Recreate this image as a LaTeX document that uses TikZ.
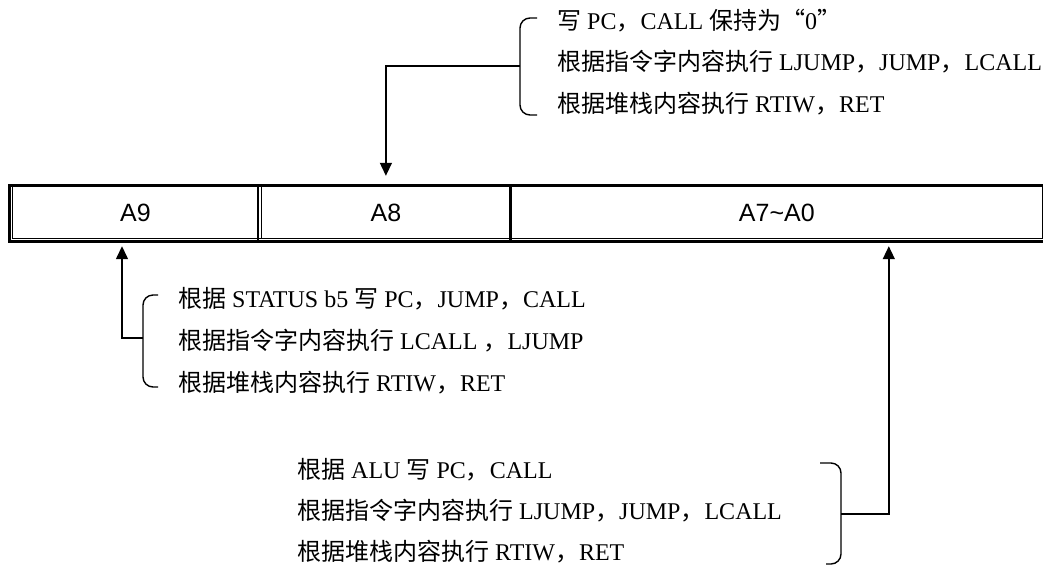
\documentclass[tikz,border=0pt]{standalone}
\usepackage{fontspec}
\setmainfont{Liberation Serif}
\newfontfamily\cjk{Noto Sans CJK SC}
\newfontfamily\regfont{Liberation Sans}
\newcommand{\zh}[1]{{\cjk #1}}
\usepackage{tikz}
\usetikzlibrary{positioning, arrows.meta}

\tikzset{
  cell/.style={minimum height=54pt, inner sep=0pt, font=\regfont\fontsize{25}{25}\selectfont},
  note/.style={anchor=west, inner sep=0pt, font=\fontsize{24}{24}\selectfont},
  brace/.style={line width=1.4pt, rounded corners=10pt},
  feed/.style={line width=1.4pt, -{Triangle[length=13pt,width=12pt]}},
}

\begin{document}
\begin{tikzpicture}[x=1pt,y=-1pt]
        \useasboundingbox (0,0) rectangle (1043,566);
        % register cells
        \node[cell, minimum width=247pt] (a9) at (135.5,213) {A9};
        \node[cell, minimum width=249pt, right=2pt of a9] (a8) {A8};
        \node[cell, minimum width=532pt, right=0pt of a8] (a7) {A7\char`~A0};
        \draw[line width=3pt] (9,185.5) rectangle (1046,241.5);
        \draw[line width=0.9pt] (12,187) |- (1042,238) -- (1042,187);
        \draw[line width=1.8pt] ([xshift=-1pt]a9.north east) -- ([xshift=-1pt]a9.south east);
        \draw[line width=0.9pt] (a8.north west) -- ([yshift=2pt]a8.south west);
        \draw[line width=3.5pt] (a8.north east) -- (a8.south east);
        % top group -> A8
        \node[note] (w1) at (557,21) {\zh{写} PC\zh{，}CALL \zh{保持为“}0\zh{”}};
        \node[note] (w2) at (557,62) {\zh{根据指令字内容执行} LJUMP\zh{，}JUMP\zh{，}LCALL};
        \node[note] (w3) at (557,104) {\zh{根据堆栈内容执行} RTIW\zh{，}RET};
        \draw[brace] (537,18) -| (520,115) -- (537,115);
        \coordinate (tb) at (520,66);
        \draw[feed] (tb) -| ([yshift=10pt]a8.north);
        % left group -> A9
        \node[note] (l1) at (178,299) {\zh{根据} STATUS b5 \zh{写} PC\zh{，}JUMP\zh{，}CALL};
        \node[note] (l2) at (178,341) {\zh{根据指令字内容执行} LCALL \zh{，}LJUMP};
        \node[note] (l3) at (178,383) {\zh{根据堆栈内容执行} RTIW\zh{，}RET};
        \draw[brace] (158,295) -| (143,387) -- (158,387);
        \coordinate (lb) at (143,338);
        \draw[feed] (lb) -| ([xshift=-13.5pt,yshift=-6pt]a9.south);
        % right group -> A7~A0
        \node[note] (r1) at (297,470) {\zh{根据} ALU \zh{写} PC\zh{，}CALL};
        \node[note] (r2) at (297,511) {\zh{根据指令字内容执行} LJUMP\zh{，}JUMP\zh{，}LCALL};
        \node[note] (r3) at (297,552) {\zh{根据堆栈内容执行} RTIW\zh{，}RET};
        \draw[brace] (820,463) -| (841,564) -- (826,564);
        \coordinate (rb) at (841,514);
        \draw[feed] (rb) -| ([xshift=112pt,yshift=-6pt]a7.south);
\end{tikzpicture}
\end{document}
